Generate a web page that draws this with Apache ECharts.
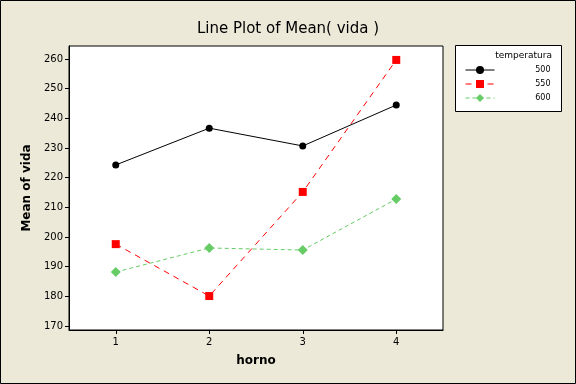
<!DOCTYPE html>
<html>
<head>
<meta charset="utf-8">
<script src="https://cdn.jsdelivr.net/npm/echarts@6/dist/echarts.min.js"></script>
<style>html,body{margin:0;padding:0;background:#ECE9D8;}#c{width:576px;height:384px;}</style>
</head>
<body>
<div id="c"></div>
<script>
var categories = ['1', '2', '3', '4'];
var seriesNames = ['500', '550', '600'];
var vida500 = [224.3, 236.7, 230.7, 244.5];
var vida550 = [197.6, 180.1, 215.2, 259.7];
var vida600 = [188.2, 196.3, 195.6, 212.8];
var yTicks = [170, 180, 190, 200, 210, 220, 230, 240, 250, 260];

var F = 'DejaVu Sans';
var chart = echarts.init(document.getElementById('c'));
chart.setOption({
  backgroundColor: '#ECE9D8',
  animation: false,
  title: {
    text: 'Line Plot of Mean( vida )',
    left: 'center', top: 17,
    textStyle: {fontFamily: F, fontSize: 15, fontWeight: 'normal', color: '#000'}
  },
  graphic: [
    {type: 'rect', shape: {x: 0.5, y: 0.5, width: 575, height: 383}, style: {fill: 'none', stroke: '#000', lineWidth: 1}, z: 0},
    {type: 'rect', shape: {x: 455.5, y: 45.5, width: 106, height: 66}, style: {fill: '#fff', stroke: '#000', lineWidth: 1}, z: 0},
    {type: 'text', x: 552, y: 56, style: {text: 'temperatura', fontFamily: F, fontSize: 9, fill: '#000', align: 'right', verticalAlign: 'middle'}, z: 5}
  ],
  legend: {
    orient: 'vertical',
    left: 460, top: 58,
    itemWidth: 29, itemHeight: 10, itemGap: 0,
    data: seriesNames,
    lineStyle: {width: 1},
    formatter: '{a|{name}}',
    textStyle: {fontFamily: F, fontSize: 8, color: '#000', lineHeight: 14,
      rich: {a: {fontFamily: F, fontSize: 8, color: '#000', width: 51, align: 'right', lineHeight: 14}}}
  },
  grid: {
    left: 69, top: 46, width: 374, height: 284,
    show: true, backgroundColor: '#fff', borderColor: '#000', borderWidth: 1,
    containLabel: false, outerBoundsMode: 'none'
  },
  xAxis: {
    type: 'category', data: categories, boundaryGap: true,
    name: 'horno', nameLocation: 'middle', nameGap: 25,
    nameTextStyle: {fontFamily: F, fontSize: 12, fontWeight: 'bold', color: '#000'},
    axisLine: {show: true, lineStyle: {color: '#000', width: 1}},
    axisTick: {show: true, alignWithLabel: true, length: 4, lineStyle: {color: '#000'}},
    axisLabel: {fontFamily: F, fontSize: 10, color: '#000', margin: 7},
    splitLine: {show: false}
  },
  yAxis: {
    type: 'value', min: 168.65, max: 264.4,
    name: 'Mean of vida', nameLocation: 'middle', nameGap: 36,
    nameTextStyle: {fontFamily: F, fontSize: 12, fontWeight: 'bold', color: '#000'},
    axisLine: {show: true, lineStyle: {color: '#000', width: 1}},
    axisTick: {show: true, length: 4, lineStyle: {color: '#000'}, customValues: yTicks},
    axisLabel: {fontFamily: F, fontSize: 10, color: '#000', margin: 6, customValues: yTicks},
    splitLine: {show: false}
  },
  series: [
    {name: seriesNames[0], type: 'line', data: vida500, symbol: 'circle', symbolSize: 7,
      itemStyle: {color: '#000'}, lineStyle: {color: '#000', width: 1, type: 'solid'}},
    {name: seriesNames[1], type: 'line', data: vida550, symbol: 'rect', symbolSize: 8,
      itemStyle: {color: '#FF0000'}, lineStyle: {color: '#FF0000', width: 1, type: [6, 5]}},
    {name: seriesNames[2], type: 'line', data: vida600, symbol: 'diamond', symbolSize: 10,
      itemStyle: {color: '#66CC66'}, lineStyle: {color: '#66CC66', width: 1, type: [4, 3]}}
  ]
});
</script>
</body>
</html>
